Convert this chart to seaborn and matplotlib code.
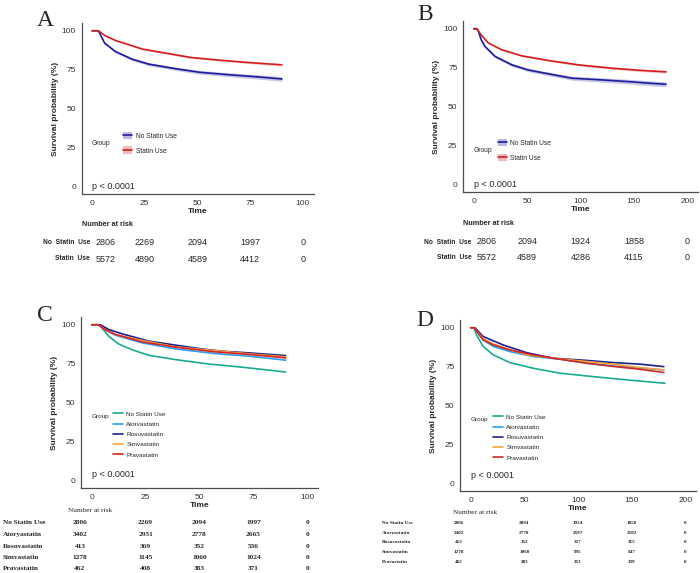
import pandas as pd
import matplotlib.pyplot as plt
import matplotlib.transforms as mtransforms
from matplotlib.lines import Line2D
from matplotlib.patches import Patch
import seaborn as sns

sns.set_style("white")
plt.rcParams["font.family"] = ["Liberation Sans", "DejaVu Sans"]
SERIF = ["Liberation Serif", "DejaVu Serif"]

# ---------------- values ----------------
# Panel A (follow-up to 90)
a_no_time = [0, 3, 6, 11, 19, 27, 40, 51, 66, 79, 90]
a_no_surv = [100, 100, 92, 86.7, 81.7, 78.5, 75.5, 73.3, 71.6, 70.3, 69]
a_no_ci = [0, 0, 0.6, 0.8, 0.9, 1.0, 1.1, 1.2, 1.3, 1.4, 1.5]
a_st_time = [0, 3, 6, 11, 24, 35, 47, 62, 74, 90]
a_st_surv = [100, 100, 97, 93.8, 88.2, 85.6, 82.8, 80.9, 79.6, 78.1]
a_st_ci = [0, 0, 0.3, 0.4, 0.5, 0.5, 0.6, 0.6, 0.7, 0.7]

# Panel B (follow-up to 180)
b_no_time = [0, 3, 4.4, 7, 10.6, 20, 35.7, 51, 70, 92, 120, 145, 164, 180]
b_no_surv = [100, 100, 98.3, 93, 88.6, 82.2, 76.8, 73.5, 71, 68.2, 67.1, 66, 65, 64.3]
b_no_ci = [0, 0, 0.4, 0.6, 0.8, 0.9, 1.0, 1.1, 1.2, 1.3, 1.4, 1.5, 1.6, 1.6]
b_st_time = [0, 3, 7, 13.8, 26.3, 45, 70, 98, 130, 155, 180]
b_st_surv = [100, 100, 96, 90.8, 86.5, 82.6, 79.6, 76.8, 74.6, 73.3, 72.3]
b_st_ci = [0, 0, 0.3, 0.4, 0.5, 0.5, 0.6, 0.7, 0.7, 0.8, 0.8]

# Panel C (follow-up to 90, by statin)
c_no_time = [0, 3, 4.7, 7.8, 12.4, 18.6, 26.4, 38.8, 54, 70, 90]
c_no_surv = [100, 100, 98, 92.7, 87.7, 84, 80.4, 77.6, 74.8, 72.7, 69.6]
c_ator_time = [0, 3, 6, 10.9, 23.3, 38.8, 57, 73, 90]
c_ator_surv = [100, 100, 97, 93.3, 88.4, 84.5, 81.5, 79.8, 77.2]
c_rosu_time = [0, 4, 7.8, 14, 26.4, 38.8, 51, 60.5, 73, 90]
c_rosu_surv = [100, 100, 97, 94.2, 89.5, 86.9, 84.5, 83, 81.9, 80.2]
c_simv_time = [0, 3, 6, 11, 23.3, 38.8, 57, 73, 90]
c_simv_surv = [100, 100, 97, 93.6, 89.9, 85.8, 83.4, 81.3, 79.4]
c_prav_time = [0, 3, 6, 10.9, 23.3, 38.8, 57, 73, 90]
c_prav_surv = [100, 100, 97, 93.8, 89, 85.6, 82.6, 80.9, 78.7]

# Panel D (follow-up to 180, by statin)
d_no_time = [0, 3, 5.3, 11.5, 20.9, 36.4, 58, 83, 114, 145, 181]
d_no_surv = [100, 100, 95.5, 88, 82.6, 77.6, 74, 70.8, 68.6, 66.5, 64.3]
d_ator_time = [0, 3, 11.5, 21, 36.4, 58, 83, 108, 133, 158, 180]
d_ator_surv = [100, 100, 92.3, 88, 84.7, 81.5, 79.8, 77.2, 75.5, 74, 72.9]
d_rosu_time = [0, 4, 11.5, 30, 52, 77, 108, 133, 158, 180]
d_rosu_surv = [100, 100, 94.4, 89, 84, 80.4, 79, 77.6, 76.6, 75]
d_simv_time = [0, 3, 11.5, 21, 52, 83, 108, 133, 158, 180]
d_simv_surv = [100, 100, 93, 89.5, 82.6, 80, 78.3, 76.6, 74.4, 72.9]
d_prav_time = [0, 3, 11.5, 21, 36, 58, 83, 108, 133, 158, 180]
d_prav_surv = [100, 100, 92.3, 89, 85.8, 82.6, 79.8, 77.2, 75.1, 73.3, 71.2]

# Number-at-risk tables
ab_groups = ["No Statin Use", "Statin Use"]
ab_row_labels = ["No  Statin  Use", "Statin  Use"]
a_risk_times = [0, 25, 50, 75, 100]
a_risk = [[2806, 2269, 2094, 1997, 0], [5572, 4890, 4589, 4412, 0]]
b_risk_times = [0, 50, 100, 150, 200]
b_risk = [[2806, 2094, 1924, 1858, 0], [5572, 4589, 4286, 4115, 0]]

cd_groups = ["No Statin Use", "Atorvastatin", "Rosuvastatin", "Simvastatin", "Pravastatin"]
cd_row_labels = ["No Statin Use", "Atoryastatin", "Rosuvastatin", "Simvastatin", "Pravastatin"]
c_risk_times = [0, 25, 50, 75, 100]
c_risk = [[2806, 2269, 2094, 1997, 0], [3402, 2951, 2778, 2665, 0],
          [413, 369, 352, 536, 0], [1278, 1145, 1060, 1024, 0],
          [462, 408, 383, 371, 0]]
d_risk_times = [0, 50, 100, 150, 200]
d_risk = [[2806, 2094, 1924, 1858, 0], [3402, 2778, 2597, 2502, 0],
          [413, 352, 327, 315, 0], [1278, 1060, 995, 947, 0],
          [462, 383, 353, 339, 0]]

ab_colors = ["#1C1C9C", "#D41E1E"]
cd_colors = ["#1AAA94", "#2E9CF0", "#1E1E8E", "#F2A33A", "#D42626"]

AXC = "#4d4d4d"
W, H = 700, 573
fig = plt.figure(figsize=(7, 5.73), dpi=100)


def fy(y):
    return 1 - y / H


def km_panel(rect, curves, groups, colors, xmax, step, bands=None):
    ax = fig.add_axes(rect)
    frame = pd.concat([pd.DataFrame({"time": t, "surv": s, "group": g})
                       for g, (t, s) in zip(groups, curves)])
    if bands:
        for (t, s), ci, col in zip(curves, bands, colors):
            ax.fill_between(t, [v - c for v, c in zip(s, ci)],
                            [v + c for v, c in zip(s, ci)],
                            color=col, alpha=0.25, lw=0)
    sns.lineplot(data=frame, x="time", y="surv", hue="group",
                 hue_order=groups, palette=dict(zip(groups, colors)),
                 estimator=None, sort=False, lw=1.2, legend=False, ax=ax)
    ax.set_xlim(-0.05 * xmax, 1.05 * xmax)
    ax.set_ylim(-5, 105)
    ax.set_xticks(range(0, xmax + 1, step))
    ax.set_yticks([0, 25, 50, 75, 100])
    sns.despine(ax=ax)
    for sp in ["left", "bottom"]:
        ax.spines[sp].set_color(AXC)
        ax.spines[sp].set_linewidth(0.9)
    ax.tick_params(length=2.5, width=0.8, color=AXC, labelsize=6,
                   labelcolor="#333333", pad=1.5)
    ax.set_xlabel("Time", fontsize=6, fontweight="bold", labelpad=1)
    ax.set_ylabel("Survival probability (%)", fontsize=6, fontweight="bold",
                  labelpad=2)
    return ax


# ---------------- Panel A ----------------
axA = km_panel([81.5 / W, fy(194), 232 / W, 171 / H],
               [(a_no_time, a_no_surv), (a_st_time, a_st_surv)],
               ab_groups, ab_colors, 100, 25,
               bands=[a_no_ci, a_st_ci])
# ---------------- Panel B ----------------
axB = km_panel([463 / W, fy(192), 235 / W, 171 / H],
               [(b_no_time, b_no_surv), (b_st_time, b_st_surv)],
               ab_groups, ab_colors, 200, 50,
               bands=[b_no_ci, b_st_ci])
# ---------------- Panel C ----------------
axC = km_panel([81 / W, fy(488), 237 / W, 171 / H],
               [(c_no_time, c_no_surv), (c_ator_time, c_ator_surv),
                (c_rosu_time, c_rosu_surv), (c_simv_time, c_simv_surv),
                (c_prav_time, c_prav_surv)],
               cd_groups, cd_colors, 100, 25)
# ---------------- Panel D ----------------
axD = km_panel([460 / W, fy(491), 236 / W, 171 / H],
               [(d_no_time, d_no_surv), (d_ator_time, d_ator_surv),
                (d_rosu_time, d_rosu_surv), (d_simv_time, d_simv_surv),
                (d_prav_time, d_prav_surv)],
               cd_groups, cd_colors, 200, 50)

# legends
for ax, xkey, ymid in [(axA, 14.7, 27.7), (axB, 22.5, 21.9)]:
    handles = [(Patch(color=c, alpha=0.3, lw=0), Line2D([], [], color=c, lw=1.2))
               for c in ab_colors]
    ax.legend(handles, ab_groups, loc="center left", bbox_to_anchor=(xkey, ymid),
              bbox_transform=ax.transData, frameon=False, fontsize=4.8,
              handlelength=1.4, handleheight=1.4, labelspacing=1.0,
              handletextpad=0.5, borderpad=0, borderaxespad=0)
    ax.text(0, ymid, "Group", fontsize=4.8, ha="left", va="center")

for ax, xkey, ytop in [(axC, 9.8, 44.5), (axD, 20.6, 44.5)]:
    handles = [Line2D([], [], color=c, lw=1.2) for c in cd_colors]
    ax.legend(handles, cd_groups, loc="upper left", bbox_to_anchor=(xkey, ytop),
              bbox_transform=ax.transData, frameon=False, fontsize=4.6,
              handlelength=1.6, labelspacing=0.75, handletextpad=0.5,
              borderpad=0, borderaxespad=0)
    ax.text(0, 41.3, "Group", fontsize=4.6, ha="left", va="center")

# p-values
axA.text(0, 0, "p < 0.0001", fontsize=6.5, ha="left", va="center")
axB.text(0, 0, "p < 0.0001", fontsize=6.5, ha="left", va="center")
axC.text(0, 4, "p < 0.0001", fontsize=6.5, ha="left", va="center")
axD.text(0, 5, "p < 0.0001", fontsize=6.5, ha="left", va="center")

# panel letters
for lab, x, y in [("A", 45, 26), ("B", 425, 20), ("C", 45, 321), ("D", 425, 326)]:
    fig.text(x / W, fy(y), lab, fontsize=17, family=SERIF, ha="center",
             va="baseline")

# risk tables A, B
for ax, times, risk, xhead, yhead, rows, xmax in [
        (axA, a_risk_times, a_risk, 82, 225, [243, 259], 100),
        (axB, b_risk_times, b_risk, 463, 223, [242, 258], 200)]:
    tr = mtransforms.blended_transform_factory(ax.transData, fig.transFigure)
    fig.text(xhead / W, fy(yhead), "Number at risk", fontsize=5.2,
             fontweight="bold", ha="left", va="center")
    for lab, vals, y in zip(ab_row_labels, risk, rows):
        ax.text(-0.01 * xmax, fy(y), lab, transform=tr, fontsize=4.8,
                fontweight="bold", ha="right", va="center")
        for i, (t, v) in enumerate(zip(times, vals)):
            if i == 0:
                ax.text(t + 0.015 * xmax, fy(y), str(v), transform=tr,
                        fontsize=6.5, ha="left", va="center")
            else:
                ax.text(t, fy(y), str(v), transform=tr, fontsize=6.5,
                        ha="center", va="center")

# risk tables C, D
for ax, times, risk, xhead, yhead, xlab, rows, xmax, lsize, nsize in [
        (axC, c_risk_times, c_risk, 68, 511, 3,
         [523, 534.5, 546, 557.5, 568.5], 100, 5.2, 5.3),
        (axD, d_risk_times, d_risk, 453, 513, 382,
         [522.7, 532.7, 542.3, 552.3, 561.7], 200, 3.8, 3.7)]:
    tr = mtransforms.blended_transform_factory(ax.transData, fig.transFigure)
    fig.text(xhead / W, fy(yhead), "Number at risk", fontsize=5.2,
             family=SERIF, ha="left", va="center")
    for lab, vals, y in zip(cd_row_labels, risk, rows):
        fig.text(xlab / W, fy(y), lab, fontsize=lsize, family=SERIF,
                 fontweight="bold", ha="left", va="center")
        for i, (t, v) in enumerate(zip(times, vals)):
            xt = t - 0.055 * xmax if i == 0 else t
            ax.text(xt, fy(y), str(v), transform=tr, fontsize=nsize,
                    family=SERIF, fontweight="bold", ha="center", va="center")

fig.savefig("out.png", dpi=100)
